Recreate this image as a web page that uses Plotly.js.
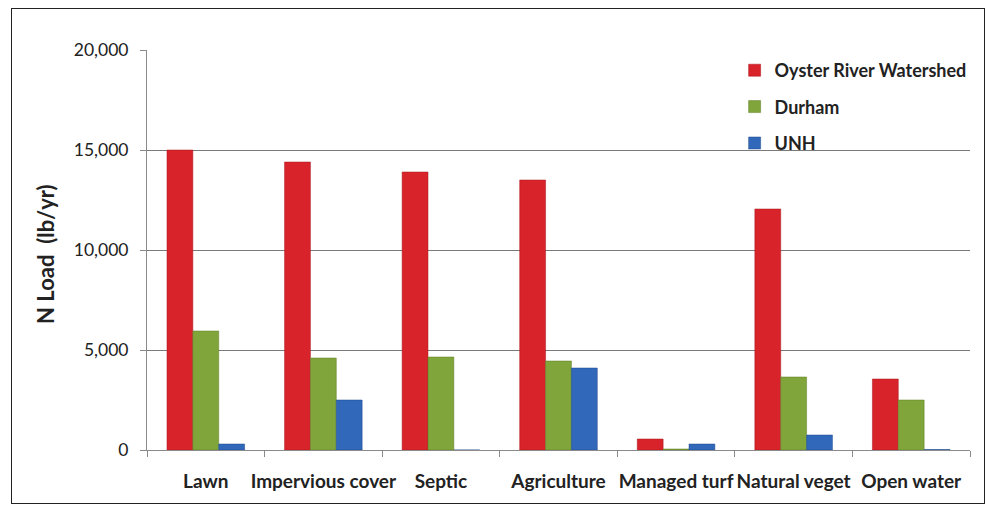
<!DOCTYPE html>
<html>
<head>
<meta charset="utf-8">
<script src="https://cdn.plot.ly/plotly-3.0.1.min.js"></script>
<style>
html,body{margin:0;padding:0;background:#fff;}
#wrap{position:relative;width:987px;height:506px;}
#chart{width:987px;height:506px;}
#frame{position:absolute;left:11px;top:8px;width:972px;height:494px;border:1.5px solid #222;pointer-events:none;}
</style>
</head>
<body>
<div id="wrap"><div id="chart"></div><div id="frame"></div></div>
<script>
const categories = ["Lawn", "Impervious cover", "Septic", "Agriculture", "Managed turf", "Natural veget", "Open water"];
const seriesNames = ["Oyster River Watershed", "Durham", "UNH"];
const oysterRiver = [15000, 14400, 13900, 13500, 550, 12050, 3550];
const durham = [5950, 4600, 4650, 4450, 50, 3650, 2500];
const unh = [300, 2500, 0, 4100, 300, 750, 25];
const yTitle = "N Load  (lb/yr)";
const colors = ["#d8232b", "#80a53a", "#3168ba"];
const lineColors = ["#a8141b", "#5e7d24", "#1f4a8a"];

const allSeries = [oysterRiver, durham, unh];
const traces = allSeries.map((vals, i) => ({
  type: "bar",
  name: seriesNames[i],
  x: categories,
  y: vals,
  legendgroup: "g" + i,
  marker: {color: colors[i], line: {color: lineColors[i], width: 0.5}},
  hoverinfo: "x+y+name"
}));

const layout = {
  width: 987, height: 506,
  margin: {l: 147, r: 17, t: 50, b: 56},
  paper_bgcolor: "#ffffff",
  plot_bgcolor: "#ffffff",
  barmode: "group",
  bargap: 0.34,
  bargroupgap: 0,
  font: {family: "Lato, 'Liberation Sans', sans-serif", color: "#222"},
  xaxis: {
    type: "category",
    showline: true, linecolor: "#8a8a8a", linewidth: 1,
    ticks: "outside", tickson: "boundaries", ticklen: 6, tickcolor: "#8a8a8a",
    tickangle: 0,
    ticklabelstandoff: 14,
    showgrid: false,
    tickfont: {size: 19, family: "Lato, sans-serif", weight: "bold", color: "#222"},
    automargin: false
  },
  yaxis: {
    range: [0, 20000],
    tickvals: [0, 5000, 10000, 15000, 20000],
    ticktext: ["0", "5,000", "10,000", "15,000", "20,000"],
    showline: true, linecolor: "#8a8a8a", linewidth: 1,
    ticks: "outside", ticklen: 6, tickcolor: "#8a8a8a",
    ticklabelstandoff: 8,
    showgrid: true, gridcolor: "#7a7a7a", gridwidth: 1,
    zeroline: false,
    tickfont: {size: 17.5, family: "Lato, sans-serif", color: "#222"},
    automargin: false
  },
  annotations: [{
    text: yTitle,
    xref: "paper", yref: "paper",
    x: -0.124, y: 0.49, xanchor: "center", yanchor: "middle",
    textangle: -90, showarrow: false,
    font: {size: 22, family: "Lato, sans-serif", weight: "bold", color: "#222"}
  }],
  legend: {
    x: 0.714, y: 0.995, xanchor: "left", yanchor: "top",
    bgcolor: "rgba(255,255,255,0)",
    traceorder: "grouped", tracegroupgap: 10,
    itemwidth: 30,
    font: {size: 18, family: "Lato, sans-serif", weight: "bold", color: "#222"}
  },
  showlegend: true
};

Plotly.newPlot("chart", traces, layout, {displayModeBar: false, staticPlot: false});
</script>
</body>
</html>
